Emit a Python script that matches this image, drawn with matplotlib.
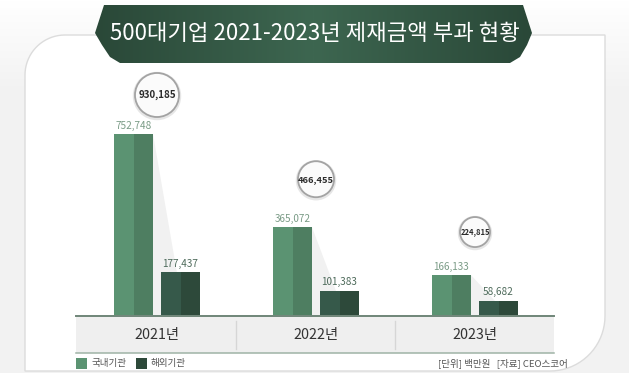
import numpy as np
import matplotlib
matplotlib.use('Agg')
import matplotlib.pyplot as plt
from matplotlib.patches import Polygon, Rectangle, Circle
from matplotlib.colors import LinearSegmentedColormap

plt.rcParams['font.family'] = ['Noto Sans CJK KR', 'DejaVu Sans']

# ---------------- data ----------------
title = '500대기업 2021-2023년 제재금액 부과 현황'
years = ['2021년', '2022년', '2023년']
domestic = [752748, 365072, 166133]
foreign = [177437, 101383, 58682]
totals = [930185, 466455, 224815]
series_names = ['국내기관', '해외기관']
footnote = '[단위] 백만원   [자료] CEO스코어'

# ---------------- style ----------------
W, H = 629, 373
dom_light, dom_dark = '#5b9372', '#4e7e61'
for_light, for_dark = '#36594a', '#2d493a'
dom_label_c = '#7a9b86'
for_label_c = '#4d6a5a'
circle_r = [22, 18, 15]
circle_fs = [7.0, 6.7, 5.5]
circle_gap = [39, 48, 43]

fig = plt.figure(figsize=(W / 100, H / 100), dpi=100)
bg = fig.add_axes([0, 0, 1, 1], zorder=0)
bg.set_xlim(0, W)
bg.set_ylim(H, 0)
bg.axis('off')

# background gradient (white on top to light gray)
g = np.clip(np.linspace(0, 1, 373) / 0.25, 0, 1)[:, None] * np.ones((1, 10))
bgcmap = LinearSegmentedColormap.from_list('bg', ['#ffffff', '#f2f2f2'])
bg.imshow(g, cmap=bgcmap, extent=[0, W, H, 0], aspect='auto', zorder=0)

# panel with rounded top-left and bottom-right corners
def arc(cx, cy, r, a0, a1, n=20):
    t = np.radians(np.linspace(a0, a1, n))
    return np.c_[cx + r * np.cos(t), cy + r * np.sin(t)]

L, T, R, B = 25, 35, 605, 371
r1, r2 = 40, 55
pts = np.vstack([
    arc(L + r1, T + r1, r1, 180, 270),
    [[R, T]],
    [[R, B - r2]],
    arc(R - r2, B - r2, r2, 0, 90),
    [[L, B]],
])
bg.add_patch(Polygon(pts, closed=True, facecolor='white', edgecolor='#dcdcdc', lw=1.0, zorder=1))

# title banner
ban = np.array([[104, 5], [523, 5], [532, 33], [527, 45], [520, 57], [510, 63],
                [120, 63], [110, 57], [102, 45], [95, 33]])
bpatch = Polygon(ban, closed=True, facecolor='none', edgecolor='none', zorder=3)
bg.add_patch(bpatch)
hg = np.abs(np.linspace(-1, 1, 300))[None, :] * np.ones((10, 1))
bcmap = LinearSegmentedColormap.from_list('ban', ['#3d6650', '#2a4838'])
im = bg.imshow(hg, cmap=bcmap, extent=[95, 532, 63, 5], aspect='auto', zorder=3)
im.set_clip_path(bpatch)
bg.add_patch(Polygon([[96, 35], [106, 35], [106, 46]], closed=True, facecolor='#b5b5b5', edgecolor='none', zorder=2))
bg.add_patch(Polygon([[531, 35], [521, 35], [521, 46]], closed=True, facecolor='#b5b5b5', edgecolor='none', zorder=2))
bg.text(315, 33, title, color='white', fontsize=16, fontweight='medium',
        ha='center', va='center', zorder=4)

# x-category band
bg.add_patch(Rectangle((76, 315), 478, 38, facecolor='#efefef', edgecolor='none', zorder=2))
bg.plot([76, 554], [315.5, 315.5], color='#6f8678', lw=1.4, zorder=3)
bg.plot([76, 554], [353, 353], color='#9fb3a6', lw=1.1, zorder=3)
for xd in (236, 395):
    bg.plot([xd, xd], [321, 349], color='#d6d6d6', lw=1.0, zorder=3)

# legend and footnote
bg.add_patch(Rectangle((76, 358), 11, 11, facecolor=dom_light, edgecolor='none', zorder=3))
bg.text(92, 363.5, series_names[0], fontsize=6.9, color='#555555', va='center', ha='left', zorder=3)
bg.add_patch(Rectangle((136, 358), 11, 11, facecolor=for_dark, edgecolor='none', zorder=3))
bg.text(151, 363.5, series_names[1], fontsize=6.9, color='#555555', va='center', ha='left', zorder=3)
bg.text(568, 363.5, footnote, fontsize=6.9, color='#555555', va='center', ha='right', zorder=3)

# ---------------- bars ----------------
base_px, top_px, tallest_px = 315, 35, 181
ax = fig.add_axes([0, (H - base_px) / H, 1, (base_px - top_px) / H], zorder=1)
ax.patch.set_alpha(0)
ax.axis('off')
unit = 159.0
ax.set_xlim(-157 / unit, (W - 157) / unit)
ax.set_ylim(0, max(domestic) * (base_px - top_px) / tallest_px)

x = np.arange(len(years))
bw = 39 / unit
off = 23.5 / unit
dom_x = x - off
for_x = x + off

# soft shadows between bars
for i in range(len(years)):
    xr = dom_x[i] + bw / 2
    xl = for_x[i] - bw / 2
    ax.fill([xr, xl + 0.1, xl + 0.1, xr], [domestic[i], foreign[i], 0, 0],
            color='#f1f1f1', lw=0, zorder=1)

ax.bar(dom_x - bw / 4, domestic, width=bw / 2, color=dom_light, zorder=2)
ax.bar(dom_x + bw / 4, domestic, width=bw / 2, color=dom_dark, zorder=2)
ax.bar(for_x - bw / 4, foreign, width=bw / 2, color=for_light, zorder=2)
ax.bar(for_x + bw / 4, foreign, width=bw / 2, color=for_dark, zorder=2)

for i in range(len(years)):
    ax.annotate(f'{domestic[i]:,}', (dom_x[i], domestic[i]), xytext=(0, 2.5),
                textcoords='offset points', ha='center', va='bottom',
                fontsize=7.2, color=dom_label_c, zorder=3)
    ax.annotate(f'{foreign[i]:,}', (for_x[i], foreign[i]), xytext=(0, 2.5),
                textcoords='offset points', ha='center', va='bottom',
                fontsize=7.2, color=for_label_c, zorder=3)

# year labels in band
for i, yl in enumerate(years):
    px = bg.transData.inverted().transform(ax.transData.transform((x[i], 0)))[0]
    bg.text(px, 335, yl, fontsize=10.3, color='#333333', ha='center', va='center', zorder=4)

# total circles
for i in range(len(years)):
    cx, cy = bg.transData.inverted().transform(ax.transData.transform((x[i], domestic[i])))
    cy = cy - circle_gap[i]
    r = circle_r[i]
    bg.add_patch(Circle((cx, cy + 1), r + 2.2, facecolor='#e6e6e6', edgecolor='none', zorder=3))
    bg.add_patch(Circle((cx, cy), r, facecolor='#fbfbfb', edgecolor='#a3a3a3', lw=1.3, zorder=4))
    bg.text(cx, cy, f'{totals[i]:,}', fontsize=circle_fs[i], fontweight='bold',
            color='#2b2b2b', ha='center', va='center', zorder=5)

fig.savefig('out.png', dpi=100)
